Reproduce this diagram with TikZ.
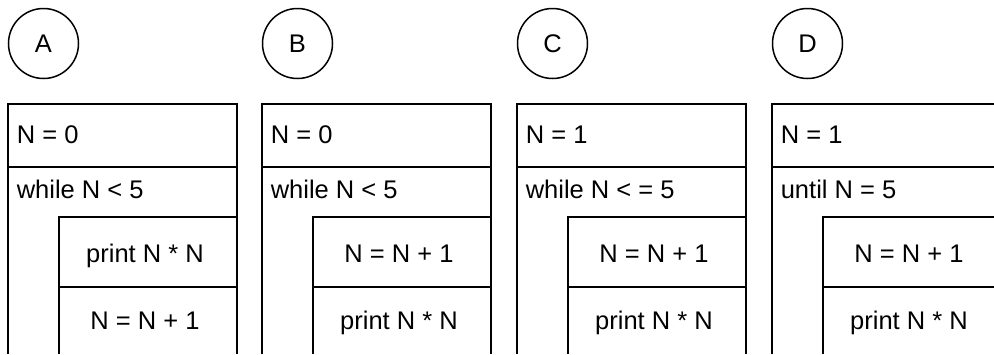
\documentclass[tikz,border=0pt]{standalone}
\usepackage{fontspec}
\setmainfont{Liberation Sans}
\tikzset{
  lbl/.style={circle, draw, line width=1.5pt, minimum size=70pt, inner sep=0pt},
  row/.style={anchor=base west, inner sep=0pt},
  stmt/.style={anchor=base, inner sep=0pt},
}
\begin{document}
\begin{tikzpicture}[x=1pt, y=-1pt, line width=1.6pt, font=\fontsize{25.5}{30}\selectfont]
\useasboundingbox (0,0) rectangle (994,354);
\clip (0,0) rectangle (994,354);
% A
\begin{scope}[xshift=8pt]
\node[lbl] (circA) at (35.5,43.5){A};
\draw (0,354) -- (0,104) -- (229,104) -- (229,354);
\draw (0,167) -- (229,167);
\draw (51,354) -- (51,217) -- (229,217);
\draw (51,287) -- (229,287);
\node[row] (initA) at (8,143.3){N = 0};
\node[row] (loopA) at (8,198.3){while N < 5};
\node[stmt] (bodyA1) at (137,262.5){print N * N};
\node[stmt] (bodyA2) at (137,329.5){N = N + 1};
\end{scope}
% B
\begin{scope}[xshift=262pt]
\node[lbl] (circB) at (35.5,43.5){B};
\draw (0,354) -- (0,104) -- (229,104) -- (229,354);
\draw (0,167) -- (229,167);
\draw (51,354) -- (51,217) -- (229,217);
\draw (51,287) -- (229,287);
\node[row] (initB) at (8,143.3){N = 0};
\node[row] (loopB) at (8,198.3){while N < 5};
\node[stmt] (bodyB1) at (137,262.5){N = N + 1};
\node[stmt] (bodyB2) at (137,329.5){print N * N};
\end{scope}
% C
\begin{scope}[xshift=517pt]
\node[lbl] (circC) at (35.5,43.5){C};
\draw (0,354) -- (0,104) -- (229,104) -- (229,354);
\draw (0,167) -- (229,167);
\draw (51,354) -- (51,217) -- (229,217);
\draw (51,287) -- (229,287);
\node[row] (initC) at (8,143.3){N = 1};
\node[row] (loopC) at (8,198.3){while N < = 5};
\node[stmt] (bodyC1) at (137,262.5){N = N + 1};
\node[stmt] (bodyC2) at (137,329.5){print N * N};
\end{scope}
% D
\begin{scope}[xshift=772pt]
\node[lbl] (circD) at (35.5,43.5){D};
\draw (0,354) -- (0,104) -- (229,104) -- (229,354);
\draw (0,167) -- (229,167);
\draw (51,354) -- (51,217) -- (229,217);
\draw (51,287) -- (229,287);
\node[row] (initD) at (8,143.3){N = 1};
\node[row] (loopD) at (8,198.3){until N = 5};
\node[stmt] (bodyD1) at (137,262.5){N = N + 1};
\node[stmt] (bodyD2) at (137,329.5){print N * N};
\end{scope}
\end{tikzpicture}
\end{document}
